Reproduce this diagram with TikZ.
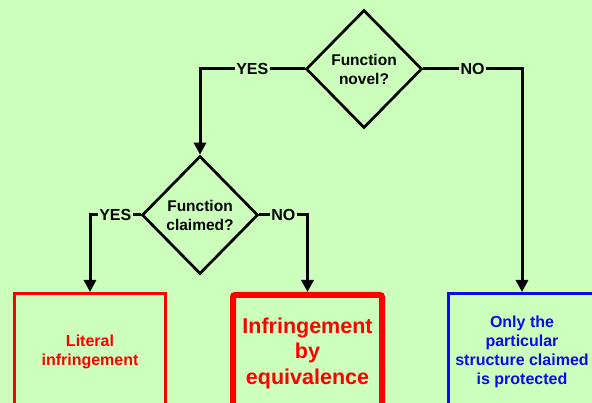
\documentclass[tikz,border=0pt]{standalone}
\usepackage{fontspec}
\setmainfont{Liberation Sans}
\usetikzlibrary{shapes.geometric, arrows.meta, positioning}
\definecolor{sfondo}{RGB}{204,255,187}
\definecolor{rosso}{RGB}{255,0,0}
\definecolor{blu}{RGB}{10,10,235}

\begin{document}
\begin{tikzpicture}[x=1pt, y=-1pt,
    rombo/.style={diamond, draw=black, line width=2.7pt, inner sep=0pt,
        minimum width=116pt, minimum height=118pt, align=center,
        font=\bfseries\fontsize{15.5}{19}\selectfont},
    esito/.style={rectangle, anchor=north, inner sep=0pt, minimum height=116pt,
        align=center, font=\bfseries\fontsize{16}{19}\selectfont},
    linea/.style={line width=3pt, -{Triangle[width=12pt, length=12pt]}},
    etichetta/.style={fill=sfondo, inner sep=1.5pt, font=\bfseries\fontsize{16}{19}\selectfont}]
                % Sfondo
                \useasboundingbox (0,0) rectangle (592,403);
                \fill[sfondo] (0,0) rectangle (592,403);
                \clip (0,0) rectangle (592,403);

                % Rombi
                \node[rombo] (novel) at (364,69) {Function\\novel?};
                \node[rombo] (claimed) at (200,215) {Function\\claimed?};

                % Esiti
                \node[esito, draw=rosso, line width=3pt, text=rosso, minimum width=151pt]
                    (literal) at (90,292) {Literal\\infringement};
                \node[esito, draw=rosso, line width=6pt, rounded corners=2pt, text=rosso, minimum width=149pt,
                    font=\bfseries\fontsize{21.5}{25.5}\selectfont]
                    (equiv) at (307.5,292) {Infringement\\by\\equivalence};
                \node[esito, draw=blu, line width=3pt, text=blu, minimum width=148pt]
                    (structure) at (522,292) {Only the\\particular\\structure claimed\\is protected};

                % Frecce
                \draw[linea] (novel.west) -| node[pos=0.25, etichetta] {YES} (claimed.north);
                \draw[linea] (novel.east) -| node[pos=0.25, etichetta] {NO} (structure.north);
                \draw[linea] (claimed.west) -| node[pos=0.25, etichetta] {YES} (literal.north);
                \draw[linea] (claimed.east) -| node[pos=0.25, etichetta] {NO} (equiv.north);
\end{tikzpicture}
\end{document}
